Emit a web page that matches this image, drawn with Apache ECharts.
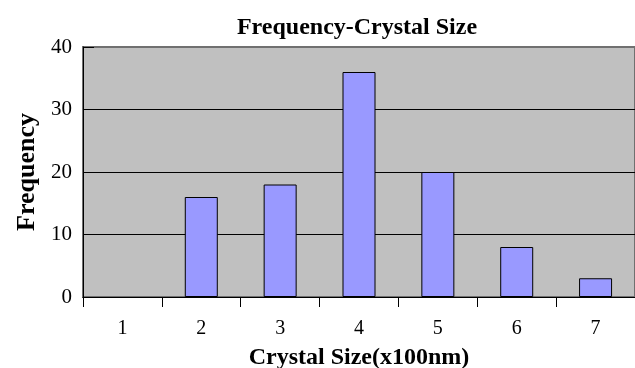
<!DOCTYPE html>
<html>
<head>
<meta charset="utf-8">
<script src="https://cdn.jsdelivr.net/npm/echarts@6/dist/echarts.min.js"></script>
<style>
html,body{margin:0;padding:0;background:#fff;}
#c{width:635px;height:368px;}
</style>
</head>
<body>
<div id="c"></div>
<script>
const categories = ['1','2','3','4','5','6','7'];
const frequency = [0, 16, 18, 36, 20, 8, 3];
const yTicks = [0, 10, 20, 30, 40];
const titleText = 'Frequency-Crystal Size';
const xName = 'Crystal Size(x100nm)';
const yName = 'Frequency';

const FONT = '"Liberation Serif","Times New Roman",serif';
const chart = echarts.init(document.getElementById('c'), null, {renderer:'canvas'});
chart.setOption({
  animation: false,
  backgroundColor: '#ffffff',
  title: {
    text: titleText,
    left: 352, top: 11, textAlign: 'center',
    textStyle: {fontFamily: FONT, fontWeight: 'bold', fontSize: 24, color: '#000'}
  },
  grid: {
    left: 83, right: 0, top: 47, bottom: 71,
    containLabel: false,
    outerBoundsMode: 'none',
    show: true, backgroundColor: '#C0C0C0',
    borderColor: '#707070', borderWidth: 2
  },
  xAxis: {
    type: 'category',
    data: categories,
    name: xName,
    nameLocation: 'middle',
    nameGap: 49,
    nameTextStyle: {fontFamily: FONT, fontWeight: 'bold', fontSize: 24, color: '#000'},
    axisLine: {show: true, lineStyle: {color: '#000', width: 1}},
    axisTick: {show: true, length: 10, lineStyle: {color: '#000'}},
    axisLabel: {fontFamily: FONT, fontSize: 20, color: '#000', margin: 22},
    splitLine: {show: false}
  },
  yAxis: {
    type: 'value',
    min: yTicks[0], max: yTicks[yTicks.length-1], interval: 10,
    name: yName,
    nameLocation: 'middle',
    nameGap: 43,
    nameTextStyle: {fontFamily: FONT, fontWeight: 'bold', fontSize: 26, color: '#000'},
    axisLine: {show: true, lineStyle: {color: '#000', width: 1}},
    axisTick: {show: true, inside: true, length: 11, lineStyle: {color: '#000'}},
    axisLabel: {fontFamily: FONT, fontSize: 21, color: '#000', margin: 11},
    splitLine: {show: true, lineStyle: {color: ['#000','#000','#000','#000','#707070'], width: 1}}
  },
  series: [{
    type: 'bar',
    data: frequency.map(v => v === 0 ? {value: v, itemStyle: {borderWidth: 0}} : v),
    barWidth: 33,
    itemStyle: {color: '#9999FF', borderColor: '#000', borderWidth: 1}
  }]
});
</script>
</body>
</html>
